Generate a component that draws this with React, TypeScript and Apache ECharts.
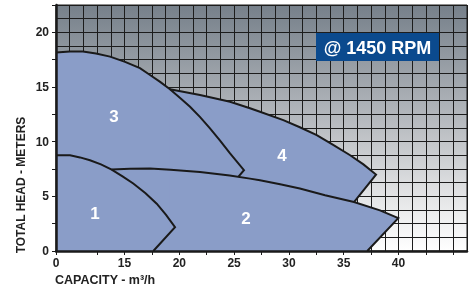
import React, { useEffect, useRef } from "react";
import * as echarts from "echarts";

// Axis extents (the left edge of the plot is labelled "0" in the reference)
const X_MIN = 8.75;
const X_MAX = 46.25;
const Y_MIN = 0;
const Y_MAX = 22.5;
const GRID_STEP = 1.25;

const X_LABEL_VALUES = [8.75, 15, 20, 25, 30, 35, 40];
const X_LABEL_TEXTS = ["0", "15", "20", "25", "30", "35", "40"];
const X_TICK_VALUES = [8.75, 12.5, 15, 17.5, 20, 22.5, 25, 27.5, 30, 32.5, 35, 37.5, 40, 42.5, 45];

// Pump curves: [capacity, head]
const CURVE_1 = [
  [8.75, 8.76], [10.03, 8.76], [10.94, 8.56], [11.85, 8.3], [12.85, 7.92], [13.83, 7.45], [14.82, 6.83],
  [15.8, 6.17], [16.92, 5.29], [17.94, 4.33], [18.79, 3.3], [19.61, 2.18], [17.63, 0],
];
const CURVE_2 = [
  [13.83, 7.45], [15.5, 7.52], [17.33, 7.54], [19.2, 7.44], [20.98, 7.29], [21.89, 7.23], [24.6, 6.9],
  [26.45, 6.62], [27.36, 6.47], [29.2, 6.11], [31.0, 5.71], [33.3, 5.1], [35.94, 4.48], [38.31, 3.72],
  [39.98, 3.01], [37.15, 0],
];
const CURVE_3 = [
  [8.75, 18.15], [10.03, 18.24], [11.21, 18.24], [12.4, 18.07], [13.68, 17.78], [15.05, 17.3], [16.41, 16.72],
  [17.33, 16.1], [18.25, 15.47], [19.15, 14.79], [20.05, 14.02], [20.98, 13.19], [21.9, 12.24], [22.8, 11.21],
  [23.72, 10.1], [24.63, 8.92], [25.9, 7.39], [25.38, 6.77],
];
const CURVE_4 = [
  [19.15, 14.79], [21.89, 14.27], [24.63, 13.65], [26.45, 13.05], [27.36, 12.74], [29.49, 11.97],
  [31.0, 11.32], [32.54, 10.6], [34.0, 9.72], [35.59, 8.76], [36.8, 7.92], [37.95, 6.99], [35.94, 4.48],
];
const CURVES = [CURVE_1, CURVE_2, CURVE_3, CURVE_4];
const CURVE_NAMES = ["1", "2", "3", "4"];

const TITLE_BADGE = "@ 1450 RPM";
const X_NAME = "CAPACITY - m³/h";
const Y_NAME = "TOTAL HEAD - METERS";

const FILL = "#8a9dc8";
const INK = "#1a1a1a";
const SANS = '"Liberation Sans", Arial, sans-serif';

export default function App() {
  const ref = useRef<HTMLDivElement>(null);
  useEffect(() => {
    if (!ref.current) return;
    const chart = echarts.init(ref.current, undefined, { renderer: "svg" });

    const areaSeries = CURVES.map((c, i) => ({
      type: "line",
      name: "area" + CURVE_NAMES[i],
      data: c,
      xAxisIndex: 0,
      yAxisIndex: 0,
      symbol: "none",
      lineStyle: { width: 0, opacity: 0 },
      areaStyle: { color: FILL, opacity: 1 },
      z: 2,
      silent: true,
    }));
    const lineSeries = CURVES.map((c, i) => ({
      type: "line",
      name: "curve" + CURVE_NAMES[i],
      data: c,
      xAxisIndex: 0,
      yAxisIndex: 0,
      symbol: "none",
      lineStyle: { width: 2, color: INK, join: "miter", miterLimit: 10 },
      z: 3,
      silent: true,
    }));

    const labelPos = [
      [95, 213],
      [246, 218],
      [114, 116],
      [282, 155],
    ];

    chart.setOption({
      animation: false,
      grid: {
        left: 56,
        top: 5,
        right: 5,
        bottom: 38,
        show: true,
        backgroundColor: new echarts.graphic.LinearGradient(0, 0, 0, 1, [
          { offset: 0, color: "#76808a" },
          { offset: 0.45, color: "#b3b7bc" },
          { offset: 0.8, color: "#e6e7e8" },
          { offset: 1, color: "#ffffff" },
        ]),
        borderColor: INK,
        borderWidth: 1,
      },
      xAxis: [
        {
          type: "value",
          min: X_MIN,
          max: X_MAX,
          z: 10,
          axisLine: { show: true, lineStyle: { color: INK, width: 2.5 } },
          axisTick: {
            show: true,
            length: 4,
            customValues: X_TICK_VALUES,
            lineStyle: { color: INK, width: 1 },
          },
          axisLabel: {
            customValues: X_LABEL_VALUES,
            formatter: (v: number) => {
              const idx = X_LABEL_VALUES.findIndex((x) => Math.abs(x - v) < 1e-6);
              return idx >= 0 ? X_LABEL_TEXTS[idx] : "";
            },
            color: "#222",
            fontFamily: SANS,
            fontWeight: "bold",
            fontSize: 12,
            margin: 6,
          },
          splitLine: { show: false },
        },
        {
          type: "value",
          min: X_MIN,
          max: X_MAX,
          interval: GRID_STEP,
          position: "top",
          axisLine: { show: false },
          axisTick: { show: false },
          axisLabel: { show: false },
          splitLine: { show: true, lineStyle: { color: "#1c1c1c", width: 1 } },
        },
      ],
      yAxis: [
        {
          type: "value",
          min: Y_MIN,
          max: Y_MAX,
          interval: 2.5,
          z: 10,
          axisLine: { show: true, lineStyle: { color: INK, width: 2.5 } },
          axisTick: { show: true, length: 4, lineStyle: { color: INK, width: 1 } },
          axisLabel: {
            interval: 1,
            formatter: (v: number) => (v % 5 === 0 ? String(v) : ""),
            color: "#222",
            fontFamily: SANS,
            fontWeight: "bold",
            fontSize: 12,
            margin: 7,
          },
          splitLine: { show: false },
        },
        {
          type: "value",
          min: Y_MIN,
          max: Y_MAX,
          interval: GRID_STEP,
          position: "right",
          axisLine: { show: false },
          axisTick: { show: false },
          axisLabel: { show: false },
          splitLine: { show: true, lineStyle: { color: "#1c1c1c", width: 1 } },
        },
      ],
      series: [...areaSeries, ...lineSeries],
      graphic: [
        ...CURVE_NAMES.map((n, i) => ({
          type: "text",
          x: labelPos[i][0],
          y: labelPos[i][1],
          z: 20,
          style: {
            text: n,
            fill: "#ffffff",
            font: `bold 17px ${SANS}`,
            textAlign: "center",
            textVerticalAlign: "middle",
          },
        })),
        {
          type: "rect",
          shape: { x: 316, y: 33, width: 123, height: 28 },
          z: 20,
          style: { fill: "#0b4a8e" },
        },
        {
          type: "text",
          x: 377.5,
          y: 47.5,
          z: 21,
          style: {
            text: TITLE_BADGE,
            fill: "#ffffff",
            font: `bold 18px ${SANS}`,
            textAlign: "center",
            textVerticalAlign: "middle",
          },
        },
        {
          type: "text",
          x: 55,
          y: 280,
          z: 20,
          style: {
            text: X_NAME,
            fill: "#222",
            font: `bold 12.5px ${SANS}`,
            textAlign: "left",
            textVerticalAlign: "middle",
          },
        },
        {
          type: "text",
          x: 21,
          y: 185,
          rotation: Math.PI / 2,
          z: 20,
          style: {
            text: Y_NAME,
            fill: "#222",
            font: `bold 12px ${SANS}`,
            textAlign: "center",
            textVerticalAlign: "middle",
          },
        },
      ],
    });
    return () => chart.dispose();
  }, []);
  return (
    <div
      ref={ref}
      style={{ position: "fixed", left: 0, top: 0, width: 472, height: 289 }}
    />
  );
}
